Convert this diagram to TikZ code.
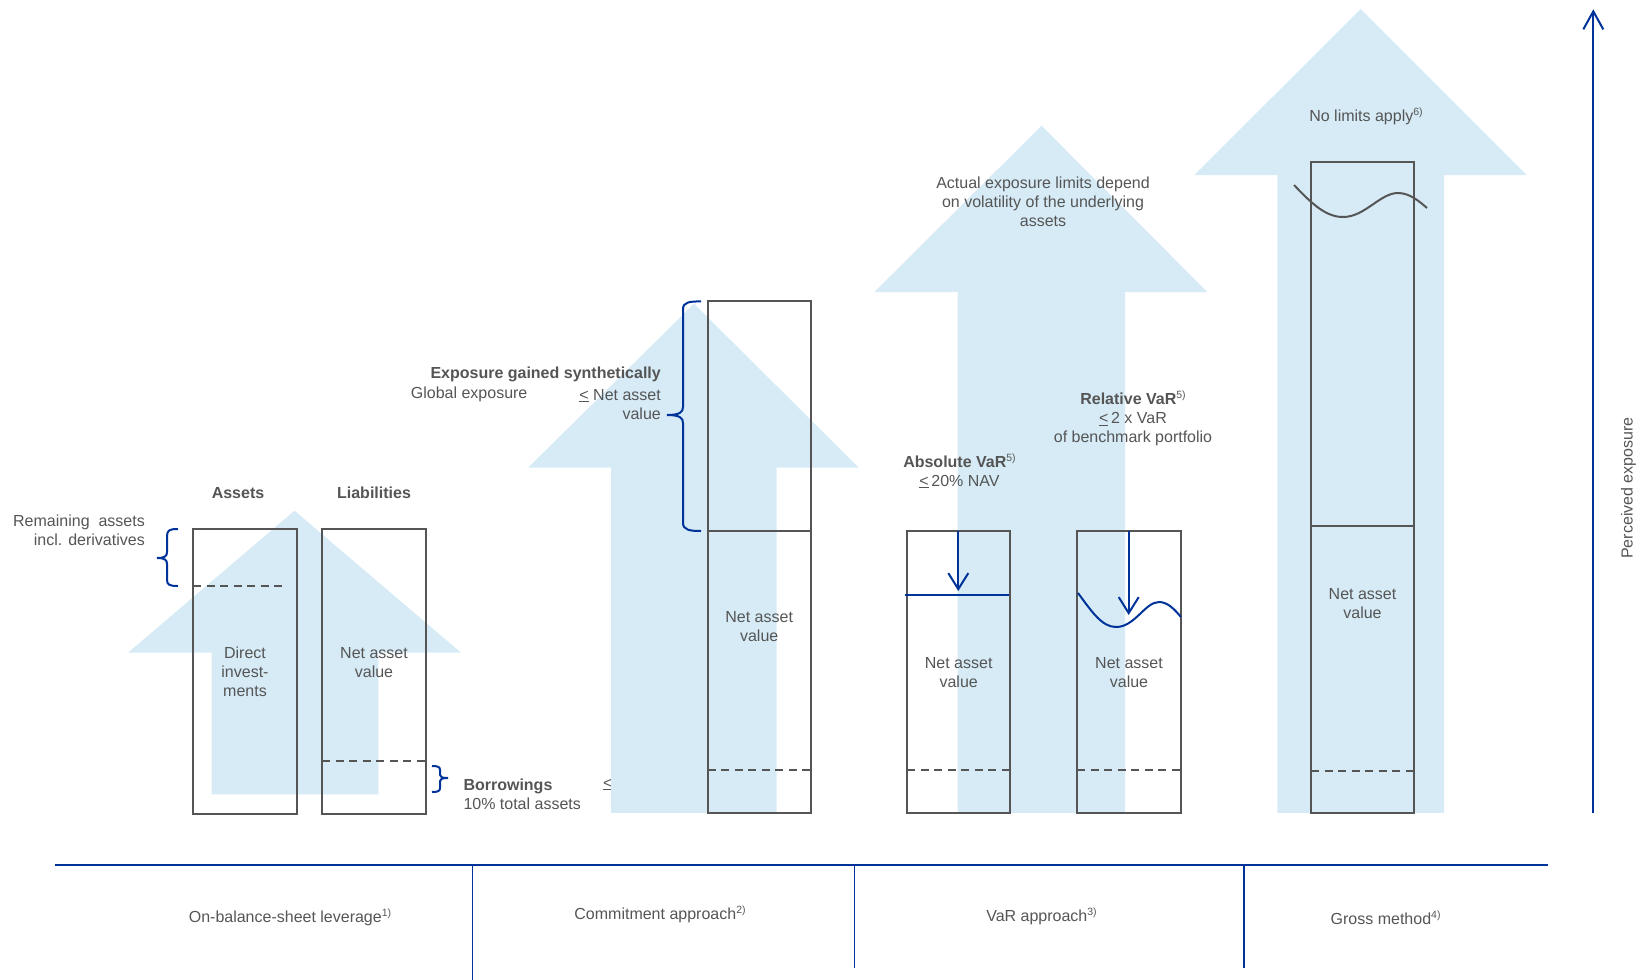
\documentclass[tikz,border=0pt]{standalone}
\usepackage{fontspec}
\setmainfont{Liberation Sans}
\usetikzlibrary{arrows.meta}
\definecolor{arrowblue}{RGB}{214,235,246}
\definecolor{txtgray}{RGB}{85,85,85}
\definecolor{navy}{RGB}{0,51,153}
\newcommand\supn[1]{\raisebox{0.38em}{\fontsize{10.5}{10.5}\selectfont\mdseries #1}}
\begin{document}
\begin{tikzpicture}[x=1pt,y=-1pt,
  bigarrow/.style={fill=arrowblue,draw=none},
  box/.style={draw=txtgray,line width=2pt,inner sep=0pt,outer sep=0pt,anchor=north west},
  boxline/.style={draw=txtgray,line width=2pt},
  dashline/.style={draw=txtgray,line width=2pt,dash pattern=on 8pt off 5.5pt},
  lbl/.style={text=txtgray,font=\fontsize{16}{19}\selectfont,inner sep=0pt,align=center},
  blueline/.style={draw=navy,line width=2pt},
  downarrow/.style={draw=navy,line width=2pt,-{Straight Barb[length=16pt,width=20pt]}},
  divider/.style={draw=navy,line width=1.5pt}]
\useasboundingbox (0,0) rectangle (1642,980);

% big light-blue arrows
\fill[bigarrow] (294.5,510.7) -- (461,652.7) -- (378.3,652.7) -- (378.3,794.3) -- (211.7,794.3) -- (211.7,652.7) -- (128,652.7) -- cycle;
\node[lbl,anchor=center] (le) at (607.7,784.6) {\underline{<}};
\fill[bigarrow] (694,303.7) -- (858.7,467.5) -- (776.7,467.5) -- (776.7,812.8) -- (611,812.8) -- (611,467.5) -- (528.3,467.5) -- cycle;
\fill[bigarrow] (1041.5,125.7) -- (1207.4,292) -- (1125,292) -- (1125,812.8) -- (957.7,812.8) -- (957.7,292) -- (874.4,292) -- cycle;
\fill[bigarrow] (1360.7,9) -- (1526.7,175) -- (1444,175) -- (1444,812.8) -- (1277.3,812.8) -- (1277.3,175) -- (1194.3,175) -- cycle;

% boxes
\node[box,minimum width=104pt,minimum height=284.5pt] (assets) at (193,529) {};
\node[box,minimum width=103.5pt,minimum height=284.5pt] (liab) at (322.3,529) {};
\node[box,minimum width=103.3pt,minimum height=511.5pt] (commit) at (707.7,301.4) {};
\node[box,minimum width=103pt,minimum height=282pt] (absvar) at (907.3,531) {};
\node[box,minimum width=103.7pt,minimum height=282pt] (relvar) at (1077,531) {};
\node[box,minimum width=103.3pt,minimum height=651pt] (gross) at (1311,161.7) {};

\draw[boxline] (707.7,531) -- (811,531);
\draw[boxline] (1311,525.7) -- (1414.3,525.7);

% dashed lines
\draw[dashline] (193,585.7) -- (287,585.7);
\draw[dashline] (322.3,760.7) -- (425.8,760.7);
\draw[dashline] (707.7,770.4) -- (811,770.4);
\draw[dashline] (907.3,770.3) -- (1010.3,770.3);
\draw[dashline] (1077,770.3) -- (1180.7,770.3);
\draw[dashline] (1311,770.7) -- (1414.3,770.7);

% braces
\draw[blueline] (178,529) .. controls (170,529) and (167,530) .. (167,536) -- (167,552) .. controls (167,556) and (165,558) .. (157,558) .. controls (165,558) and (167,560) .. (167,564) -- (167,580) .. controls (167,585) and (170,586) .. (178,586);
\draw[blueline] (701,301.4) .. controls (690,301.4) and (683,302) .. (683,309) -- (683,407) .. controls (683,412) and (680,415) .. (667,415) .. controls (680,415) and (683,418) .. (683,423) -- (683,523) .. controls (683,530) and (690,531) .. (701,531);
\draw[blueline] (432,766) .. controls (438,766) and (440,767) .. (440,770) -- (440,775) .. controls (440,777) and (442,778) .. (448,778) .. controls (442,778) and (440,779) .. (440,781) -- (440,788) .. controls (440,791) and (438,792) .. (432,792);

% VaR indicators
\coordinate (abslim) at (958.3,591);
\coordinate (rellim) at (1128.7,615);
\draw[blueline] (905,595) -- (1008.5,595);
\draw[downarrow] (absvar.north -| abslim) -- (abslim);
\draw[blueline] (1078,593) .. controls (1092,612) and (1102,627) .. (1116,627) .. controls (1135,627) and (1145,602) .. (1159,602) .. controls (1168,602) and (1175,610) .. (1181,617);
\draw[downarrow] (relvar.north -| rellim) -- (rellim);

% gross wave
\draw[draw=txtgray,line width=2pt] (1294,185) .. controls (1312,204) and (1326,217) .. (1343,217) .. controls (1365,217) and (1380,193) .. (1398,193) .. controls (1410,193) and (1420,202) .. (1427,208);

% texts
\node[lbl,font=\fontsize{16}{19}\selectfont\bfseries] (tassets) at (238,492.7) {Assets};
\node[lbl,font=\fontsize{16}{19}\selectfont\bfseries] (tliab) at (374,492.7) {Liabilities};
\node[lbl,align=right,anchor=east] (trem) at (145,530.5) {Remaining~ assets\\incl. derivatives};
\node[lbl] (tdirect) at (245,672) {Direct\\invest-\\ments};
\node[lbl] (tliabnav) at (374,662.5) {Net asset\\value};
\node[lbl,align=left,anchor=west] (tborrow) at (463.3,794.3) {{\bfseries Borrowings}\\10\% total assets};
\node[lbl,font=\fontsize{16}{19}\selectfont\bfseries,anchor=east] (texpo) at (661,374.6) {Exposure gained synthetically};
\node[lbl,anchor=west] (tglobal) at (410.7,394.3) {Global exposure};
\node[lbl,align=right,anchor=east] (tlenav) at (661,404.2) {\underline{<} Net asset\\value};
\node[lbl] (tcommitnav) at (759.2,626.2) {Net asset\\value};
\node[lbl] (tactual) at (1043,201.6) {Actual exposure limits depend\\on volatility of the underlying\\assets};
\node[lbl] (tabs) at (959.5,470.8) {{\bfseries Absolute VaR}\supn{5)}\\\underline{<}\,20\% NAV};
\node[lbl] (trel) at (1133,418.8) {{\bfseries Relative VaR}\supn{5)}\\\underline{<}\,2 x VaR\\of benchmark portfolio};
\node[lbl] (tabsnav) at (958.7,673) {Net asset\\value};
\node[lbl] (trelnav) at (1129,673) {Net asset\\value};
\node[lbl] (tnolim) at (1366,116.2) {No limits apply\supn{6)}};
\node[lbl] (tgrossnav) at (1362.5,603.2) {Net asset\\value};
\node[lbl,rotate=90] (tperc) at (1628.4,488) {Perceived exposure};

% axis arrow
\coordinate (axbot) at (1593.3,812.6);
\coordinate (axtop) at (1593.3,9.3);
\draw[draw=navy,line width=2pt,-{Straight Barb[length=18pt,width=20pt]}] (axbot) -- (axtop);

% bottom scale
\coordinate (bl) at (54.5,865);
\coordinate (br) at (1548,865);
\draw[draw=navy,line width=2.5pt] (bl) -- (br);
\draw[divider] (472.3,865) -- (472.3,980);
\draw[divider] (854.5,865) -- (854.5,967.7);
\draw[divider] (1244,865) -- (1244,967.7);
\node[lbl] (b1) at (290,917.4) {On-balance-sheet leverage\supn{1)}};
\node[lbl] (b2) at (660,914.2) {Commitment approach\supn{2)}};
\node[lbl] (b3) at (1041.5,916.3) {VaR approach\supn{3)}};
\node[lbl] (b4) at (1385.6,917.4) {Gross method\supn{4)}};
\end{tikzpicture}
\end{document}
